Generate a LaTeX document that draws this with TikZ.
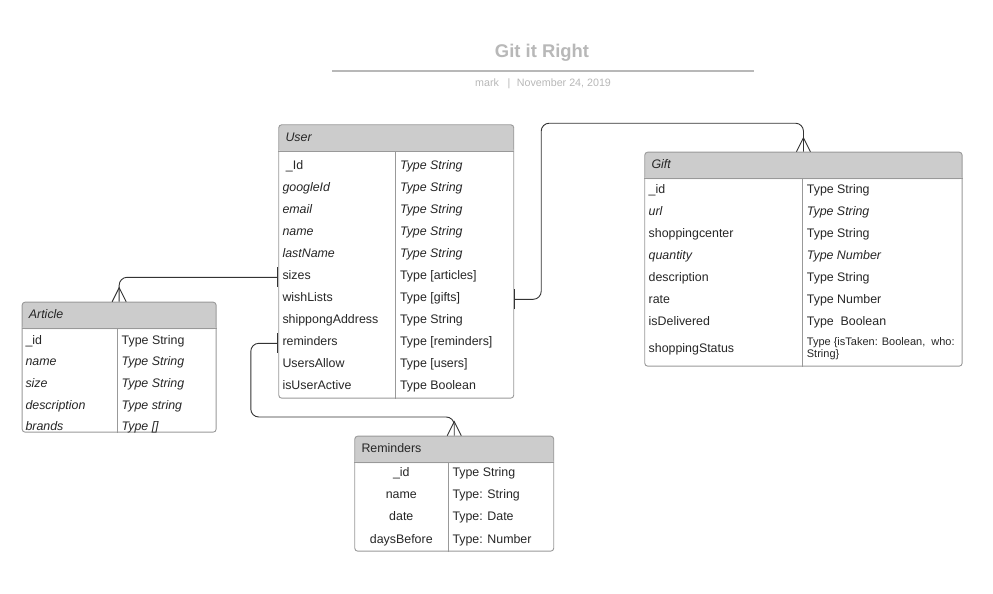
\documentclass[tikz,border=0pt]{standalone}
\usepackage{fontspec}
\setmainfont{Liberation Sans}
\usetikzlibrary{positioning, calc, arrows.meta}

\definecolor{framegray}{HTML}{999999}
\definecolor{headgray}{HTML}{CCCCCC}
\definecolor{titlegray}{HTML}{B8B8B8}
\definecolor{linkgray}{HTML}{333333}

\begin{document}
\begin{tikzpicture}[
    x=1pt, y=-1pt,
    entity/.style={draw=framegray, line width=0.9pt, rounded corners=3pt, anchor=north west, inner sep=0pt,
        path picture={\fill[headgray] (path picture bounding box.north west) rectangle ([yshift=-27pt]path picture bounding box.north east);}},
    rule/.style={draw=framegray, line width=0.9pt},
    head/.style={anchor=west, inner sep=0pt, font=\fontsize{12.4}{15}\selectfont\itshape, text=black!85},
    field/.style={anchor=base west, inner sep=0pt, text height=7.5pt, text depth=3.5pt, font=\fontsize{12.4}{15}\selectfont, text=black!85},
    rel/.style={draw=linkgray, line width=0.9pt, rounded corners=8pt},
    one/.style={arrows={Bar[width=20pt, line width=1.2pt]-}},
    crow/.pic={\draw[linkgray, line width=0.9pt] (-7,0) -- (0,-14) -- (7,0);}
]

\fill[white] (0,0) rectangle (993,594);
\useasboundingbox (0,0) rectangle (993,594);

% Title block
\node[anchor=base, inner sep=0pt, font=\fontsize{18.4}{22}\selectfont\bfseries, text=titlegray] (title) at (542,58) {Git it Right};
\draw[titlegray, line width=1.3pt] (332,71) -- (754,71);
\node[anchor=base west, inner sep=0pt, font=\fontsize{10.7}{13}\selectfont, text=titlegray] (byline) at (475,86)
    {mark\hspace{8.6pt}|\hspace{6.6pt}November 24, 2019};

% User
\node[entity, minimum width=235pt, minimum height=273.4pt] (user) at (278.3,124.3) {};
\coordinate (user-div) at (395.7,124.3);
\draw[rule] ([yshift=-27pt]user.north west) -- ([yshift=-27pt]user.north east);
\draw[rule] ([yshift=-27pt]user-div) -- (user-div |- user.south);
\node[head] (user-head) at ([xshift=7pt, yshift=-12.5pt]user.north west) {User};
\foreach \fname/\ftype [count=\i] in {
    {\ \_Id}/\textit{Type String},
    \textit{googleId}/\textit{Type String},
    \textit{email}/\textit{Type String},
    \textit{name}/\textit{Type String},
    \textit{lastName}/\textit{Type String},
    sizes/{Type [articles]},
    wishLists/{Type [gifts]},
    shippongAddress/{Type String},
    reminders/{Type [reminders]},
    UsersAllow/{Type [users]},
    isUserActive/{Type Boolean}
}{
    \node[field] (user-f\i) at (282.3, {147.3+22*\i}) {\fname};
    \node[field] (user-t\i) at (399.9, {147.3+22*\i}) {\ftype};
}

% Article
\node[entity, minimum width=194pt, minimum height=130pt] (article) at (21.7,301.7) {};
\coordinate (article-div) at (117.3,301.7);
\draw[rule] ([yshift=-27pt]article.north west) -- ([yshift=-27pt]article.north east);
\draw[rule] ([yshift=-27pt]article-div) -- (article-div |- article.south);
\node[head] (article-head) at ([xshift=7pt, yshift=-12pt]article.north west) {Article};
\foreach \fname/\ftype [count=\i] in {
    {\_id}/{Type String},
    \textit{name}/\textit{Type String},
    \textit{size}/\textit{Type String},
    \textit{description}/\textit{Type string},
    \textit{brands}/\textit{Type []}
}{
    \node[field] (article-f\i) at (25.3, {322.7+21.6*\i}) {\fname};
    \node[field] (article-t\i) at (121.5, {322.7+21.6*\i}) {\ftype};
}

% Gift
\node[entity, minimum width=317.4pt, minimum height=214pt] (gift) at (644.3,151.7) {};
\coordinate (gift-div) at (802.7,151.7);
\draw[rule] ([yshift=-27pt]gift.north west) -- ([yshift=-27pt]gift.north east);
\draw[rule] ([yshift=-27pt]gift-div) -- (gift-div |- gift.south);
\node[head] (gift-head) at ([xshift=7pt, yshift=-12.5pt]gift.north west) {Gift};
\foreach \fname/\ftype [count=\i] in {
    {\_id}/{Type String},
    \textit{url}/\textit{Type String},
    shoppingcenter/{Type String},
    \textit{quantity}/\textit{Type Number},
    description/{Type String},
    rate/{Type Number},
    isDelivered/{Type\ \ Boolean}
}{
    \node[field] (gift-f\i) at (648.5, {171.5+22*\i}) {\fname};
    \node[field] (gift-t\i) at (806.7, {171.5+22*\i}) {\ftype};
}
\node[field] (gift-f8) at (648.5,352.8) {shoppingStatus};
\node[anchor=west, inner sep=0pt, align=left, font=\fontsize{11}{12.6}\selectfont, text=black!85]
    (gift-t8) at (806.7,348.5) {Type \{isTaken: Boolean,\ \ who:\\String\}};

% Reminders
\node[entity, minimum width=199pt, minimum height=115pt] (rem) at (354.3,435.7) {};
\coordinate (rem-div) at (448.3,435.7);
\draw[rule] ([yshift=-27pt]rem.north west) -- ([yshift=-27pt]rem.north east);
\draw[rule] ([yshift=-27pt]rem-div) -- (rem-div |- rem.south);
\node[head, font=\fontsize{12.4}{15}\selectfont] (rem-head) at ([xshift=7pt, yshift=-12pt]rem.north west) {Reminders};
\foreach \fname/\ftype [count=\i] in {
    {\_id}/{Type String},
    name/{Type: String},
    date/{Type: Date},
    daysBefore/{Type: Number}
}{
    \node[field, anchor=base] (rem-f\i) at (401.3, {454.3+22.2*\i}) {\fname};
    \node[field] (rem-t\i) at (452.3, {454.3+22.2*\i}) {\ftype};
}

% Relations
\draw[rel, one] (user.west |- user-f6) -| (article.north);
\pic at (article.north) {crow};
\draw[rel, one] (user.east |- user-t7) -- ++(27,0) |- ([yshift=28.5pt]gift.north) -- (gift.north);
\pic at (gift.north) {crow};
\draw[rel, one] (user.west |- user-f9) -- ++(-27.5,0) |- ([yshift=18.7pt]rem.north) -- (rem.north);
\pic at (rem.north) {crow};

\end{tikzpicture}
\end{document}
